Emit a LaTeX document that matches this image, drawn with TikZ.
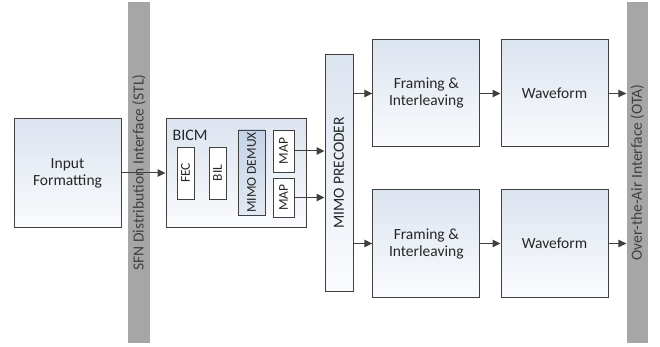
\documentclass[tikz,border=0pt]{standalone}
\usepackage{fontspec}
\setmainfont{Carlito}
\usetikzlibrary{positioning, arrows.meta}
\definecolor{boxtop}{HTML}{DCE4F0}
\definecolor{boxbot}{HTML}{FAFBFD}
\definecolor{demuxtop}{HTML}{C4D2E5}
\definecolor{demuxbot}{HTML}{E2E9F3}
\definecolor{edge}{HTML}{404040}
\definecolor{bar}{HTML}{A6A6A6}
\tikzset{
x=1pt, y=-1pt, % picture units are the pixels of the page
flow/.style={draw=edge, line width=1pt, -{Triangle[length=8pt,width=7.5pt]}}, % connectors
block/.style={draw=edge, line width=1pt, top color=boxtop, bottom color=boxbot, align=center,
  font=\fontsize{15.5}{17}\selectfont, text=black!85}, % big blocks
sub/.style={draw=edge, line width=0.9pt, fill=white, font=\fontsize{13.5}{15}\selectfont, text=black!85,
  inner sep=0pt}, % blocks inside BICM
iface/.style={fill=bar, inner sep=0pt, minimum width=22pt, minimum height=341pt,
  text=black!75, font=\fontsize{15.5}{17}\selectfont}, % interface bars
}
\begin{document}
\begin{tikzpicture}
\useasboundingbox (0,0) rectangle (660,347);
% interface bars
\node[iface] (stl) at (139,172.5) {\rotatebox{90}{SFN Distribution Interface (STL)}};
\node[iface, minimum width=21.5pt] (ota) at (637.3,172.5) {\rotatebox{90}{Over-the-Air Interface (OTA)}};

% input and BICM
\node[block, minimum width=107pt, minimum height=108pt] (input) at (67.5,173) {Input\\Formatting};
\node[block, minimum width=140pt, minimum height=108pt] (bicm) at (236,173) {};
\node[anchor=west, inner sep=0pt, font=\fontsize{16}{18}\selectfont, text=black!85] (bicmlabel) at (172.5,135) {BICM};
\node[sub, minimum width=17pt, minimum height=52pt] (fec) at (185.5,173) {\rotatebox{90}{FEC}};
\node[sub, minimum width=17pt, minimum height=52pt] (bil) at (217.5,173) {\rotatebox{90}{BIL}};
\node[sub, top color=demuxtop, bottom color=demuxbot, minimum width=27pt, minimum height=85pt] (demux) at (251.5,172.5) {\rotatebox{90}{MIMO DEMUX}};
\node[sub, minimum width=21pt, minimum height=42pt] (map1) at (283.5,151) {\rotatebox{90}{MAP}};
\node[sub, minimum width=21pt, minimum height=39pt] (map2) at (283.5,197.5) {\rotatebox{90}{MAP}};

% precoder and the two chains
\node[block, minimum width=28pt, minimum height=236pt, inner sep=0pt] (precoder) at (339,173) {\rotatebox{90}{MIMO PRECODER}};
\node[block, minimum width=107pt, minimum height=107pt] (frame1) at (426.3,93.5) {Framing \&\\Interleaving};
\node[block, minimum width=107pt, minimum height=107pt] (wave1) at (554.5,93.5) {Waveform};
\node[block, minimum width=107pt, minimum height=107pt] (frame2) at (426.3,243.5) {Framing \&\\Interleaving};
\node[block, minimum width=107pt, minimum height=107pt] (wave2) at (554.5,243.5) {Waveform};

\draw[flow] (input) -- (bicm);
\draw[flow] (map1.east) -- (map1.east -| precoder.west);
\draw[flow] (map2.east) -- (map2.east -| precoder.west);
\draw[flow] (precoder.east |- frame1.west) -- (frame1.west);
\draw[flow] (precoder.east |- frame2.west) -- (frame2.west);
\draw[flow] (frame1) -- (wave1);
\draw[flow] (frame2) -- (wave2);
\draw[flow] (wave1.east) -- (wave1.east -| ota.west);
\draw[flow] (wave2.east) -- (wave2.east -| ota.west);
\end{tikzpicture}
\end{document}
